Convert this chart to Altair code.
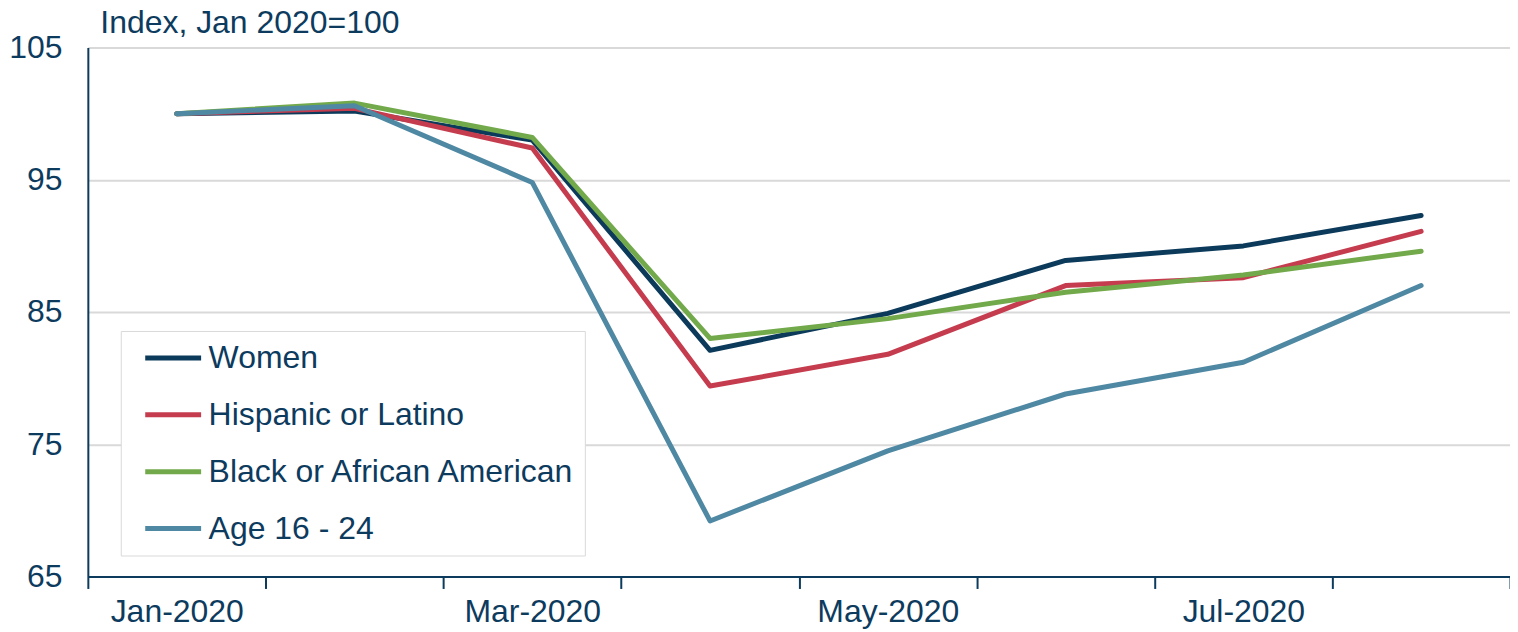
import altair as alt
import pandas as pd

months = ["Jan-2020", "Feb-2020", "Mar-2020", "Apr-2020", "May-2020", "Jun-2020", "Jul-2020", "Aug-2020"]
series = ["Women", "Hispanic or Latino", "Black or African American", "Age 16 - 24"]
women = [100.0, 100.2, 98.0, 82.1, 84.9, 88.9, 90.0, 92.3]
hispanic = [100.0, 100.4, 97.4, 79.4, 81.8, 87.0, 87.6, 91.1]
black = [100.0, 100.8, 98.2, 83.0, 84.5, 86.5, 87.8, 89.6]
age = [100.0, 100.6, 94.8, 69.2, 74.5, 78.8, 81.2, 87.0]
colors = ["#0c3a5b", "#c53c4e", "#72a94a", "#4f88a3"]

rows = []
for name, vals in zip(series, [women, hispanic, black, age]):
    for m, v in zip(months, vals):
        rows.append({"month": m, "series": name, "value": v})
df = pd.DataFrame(rows)

navy = "#0d3b5e"
shown = ["Jan-2020", "Mar-2020", "May-2020", "Jul-2020"]
label_expr = "indexof(" + str(shown) + ", datum.value) >= 0 ? datum.value : ''"

chart = alt.Chart(df).mark_line(strokeWidth=5, strokeCap="round", strokeJoin="round").encode(
    x=alt.X("month:O", sort=months,
            scale=alt.Scale(paddingInner=0, paddingOuter=0),
            axis=alt.Axis(title=None, tickBand="extent", labelExpr=label_expr,
                          labelAngle=0, labelFont="Liberation Sans", labelFontSize=32,
                          labelColor=navy, labelPadding=8, tickSize=12, tickWidth=2,
                          tickColor=navy, domainColor=navy, domainWidth=2, grid=False)),
    y=alt.Y("value:Q", scale=alt.Scale(domain=[65, 105], nice=False, zero=False),
            axis=alt.Axis(title="Index, Jan 2020=100", titleAngle=0, titleX=12, titleY=-15,
                          titleAlign="left", titleBaseline="alphabetic", titleFont="Liberation Sans",
                          titleFontSize=32, titleFontWeight="normal", titleColor=navy,
                          values=[65, 75, 85, 95, 105], labelFont="Liberation Sans",
                          labelFontSize=32, labelColor=navy, labelPadding=26, ticks=False,
                          domainColor=navy, domainWidth=2, gridColor="#d9d9d9", gridWidth=2)),
    color=alt.Color("series:N", sort=series,
                    scale=alt.Scale(domain=series, range=colors),
                    legend=alt.Legend(title=None, orient="none", legendX=33, legendY=284,
                                      symbolType="stroke", symbolSize=3136, symbolStrokeWidth=5,
                                      symbolOffset=14, clipHeight=38,
                                      labelFont="Liberation Sans", labelFontSize=32, labelColor=navy,
                                      labelOffset=5, rowPadding=19, padding=8,
                                      strokeColor="#d9d9d9", fillColor="white", labelLimit=600)),
).properties(
    width=1425, height=530,
    autosize=alt.AutoSizeParams(type="none"),
    padding={"left": 80, "top": 39, "right": 0, "bottom": 54},
).configure_view(stroke=None)

chart.save("out.html", embed_options={"renderer": "svg", "actions": False})
